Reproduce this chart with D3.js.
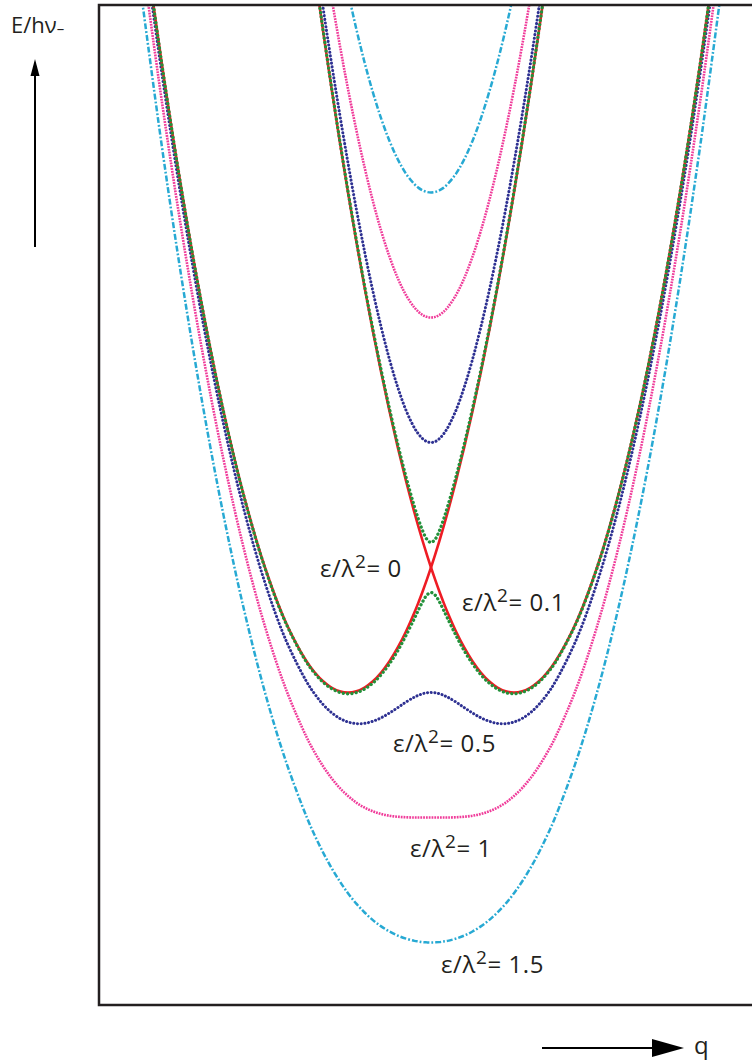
<!DOCTYPE html>
<html>
<head>
<meta charset="utf-8">
<script src="https://cdn.jsdelivr.net/npm/d3@7"></script>
<style>
  html, body { margin: 0; padding: 0; background: #fff; }
  svg { display: block; }
  text { font-family: "Open Sans", sans-serif; fill: #231f20; }
</style>
</head>
<body>
<div id="chart"></div>
<script>
// shared q grid (reaction coordinate), denser near the crossing
const qGrid = [-3.5, -3.25, -3, -2.75, -2.5, -2.25, -2, -1.75, -1.5, -1.4, -1.3, -1.2, -1.1, -1,
  -0.9, -0.8, -0.7, -0.6, -0.5, -0.4, -0.3, -0.2, -0.15, -0.1, -0.05, 0, 0.05, 0.1, 0.15, 0.2,
  0.3, 0.4, 0.5, 0.6, 0.7, 0.8, 0.9, 1, 1.1, 1.2, 1.3, 1.4, 1.5, 1.75, 2, 2.25, 2.5, 2.75, 3, 3.25, 3.5];

// eps/lambda^2 = 0 : the two crossing diabatic curves
const diabaticLeft = [5.25, 4.0625, 3, 2.0625, 1.25, 0.5625, 0, -0.4375, -0.75, -0.84, -0.91, -0.96, -0.99, -1,
  -0.99, -0.96, -0.91, -0.84, -0.75, -0.64, -0.51, -0.36, -0.2775, -0.19, -0.0975, 0, 0.1025, 0.21, 0.3225, 0.44,
  0.69, 0.96, 1.25, 1.56, 1.89, 2.24, 2.61, 3.0, 3.41, 3.84, 4.29, 4.76, 5.25, null, null, null, null, null, null, null, null];
const diabaticRight = [null, null, null, null, null, null, null, null, 5.25, 4.76, 4.29, 3.84, 3.41, 3.0,
  2.61, 2.24, 1.89, 1.56, 1.25, 0.96, 0.69, 0.44, 0.3225, 0.21, 0.1025, 0, -0.0975, -0.19, -0.2775, -0.36,
  -0.51, -0.64, -0.75, -0.84, -0.91, -0.96, -0.99, -1, -0.99, -0.96, -0.91, -0.84, -0.75, -0.4375, 0, 0.5625, 1.25, 2.0625, 3, 4.0625, 5.25];

// eps/lambda^2 = 0.1
const upper01 = [null, null, null, null, null, null, null, null, 5.257, 4.767, 4.298, 3.848, 3.419, 3.010,
  2.621, 2.252, 1.904, 1.577, 1.270, 0.985, 0.722, 0.487, 0.383, 0.293, 0.226, 0.2, 0.226, 0.293, 0.383, 0.487,
  0.722, 0.985, 1.270, 1.577, 1.904, 2.252, 2.621, 3.010, 3.419, 3.848, 4.298, 4.767, 5.257, null, null, null, null, null, null, null, null];
const lower01 = [5.247, 4.059, 2.997, 2.059, 1.246, 0.558, -0.005, -0.443, -0.757, -0.847, -0.918, -0.968, -0.999, -1.010,
  -1.001, -0.972, -0.924, -0.857, -0.770, -0.665, -0.542, -0.407, -0.338, -0.273, -0.221, -0.2, -0.221, -0.273, -0.338, -0.407,
  -0.542, -0.665, -0.770, -0.857, -0.924, -0.972, -1.001, -1.010, -0.999, -0.968, -0.918, -0.847, -0.757, -0.443, -0.005, 0.558, 1.246, 2.059, 2.997, 4.059, 5.247];

// eps/lambda^2 = 0.5
const upper05 = [null, null, null, null, null, null, null, null, 5.412, 4.933, 4.476, 4.040, 3.627, 3.236,
  2.869, 2.527, 2.210, 1.922, 1.664, 1.441, 1.256, 1.117, 1.067, 1.030, 1.007, 1.0, 1.007, 1.030, 1.067, 1.117,
  1.256, 1.441, 1.664, 1.922, 2.210, 2.527, 2.869, 3.236, 3.627, 4.040, 4.476, 4.933, 5.412, null, null, null, null, null, null, null, null];
const lower05 = [5.179, 3.986, 2.917, 1.972, 1.151, 0.453, -0.123, -0.578, -0.912, -1.013, -1.096, -1.160, -1.207, -1.236,
  -1.249, -1.247, -1.230, -1.202, -1.164, -1.121, -1.076, -1.037, -1.022, -1.010, -1.002, -1.0, -1.002, -1.010, -1.022, -1.037,
  -1.076, -1.121, -1.164, -1.202, -1.230, -1.247, -1.249, -1.236, -1.207, -1.160, -1.096, -1.013, -0.912, -0.578, -0.123, 0.453, 1.151, 1.972, 2.917, 3.986, 5.179];

// eps/lambda^2 = 1
const upper10 = [null, null, null, null, null, null, null, null, 5.856, 5.401, 4.970, 4.564, 4.183, 3.828,
  3.501, 3.201, 2.931, 2.692, 2.486, 2.314, 2.178, 2.080, 2.045, 2.020, 2.005, 2.0, 2.005, 2.020, 2.045, 2.080,
  2.178, 2.314, 2.486, 2.692, 2.931, 3.201, 3.501, 3.828, 4.183, 4.564, 4.970, 5.401, 5.856, null, null, null, null, null, null, null, null];
const lower10 = [4.970, 3.762, 2.675, 1.710, 0.865, 0.138, -0.472, -0.969, -1.356, -1.481, -1.590, -1.684, -1.763, -1.828,
  -1.881, -1.921, -1.951, -1.972, -1.986, -1.994, -1.998, -2.0, -2.0, -2.0, -2.0, -2.0, -2.0, -2.0, -2.0, -2.0,
  -1.998, -1.994, -1.986, -1.972, -1.951, -1.921, -1.881, -1.828, -1.763, -1.684, -1.590, -1.481, -1.356, -0.969, -0.472, 0.138, 0.865, 1.710, 2.675, 3.762, 4.970];

// eps/lambda^2 = 1.5
const upper15 = [null, null, null, null, null, null, null, null, 6.493, 6.064, 5.660, 5.282, 4.930, 4.606,
  4.309, 4.040, 3.801, 3.591, 3.412, 3.265, 3.149, 3.067, 3.037, 3.017, 3.004, 3.0, 3.004, 3.017, 3.037, 3.067,
  3.149, 3.265, 3.412, 3.591, 3.801, 4.040, 4.309, 4.606, 4.930, 5.282, 5.660, 6.064, 6.493, null, null, null, null, null, null, null, null];
const lower15 = [4.634, 3.404, 2.292, 1.298, 0.419, -0.346, -1.0, -1.547, -1.993, -2.144, -2.280, -2.402, -2.510, -2.606,
  -2.689, -2.760, -2.821, -2.871, -2.912, -2.945, -2.969, -2.987, -2.992, -2.997, -2.999, -3.0, -2.999, -2.997, -2.992, -2.987,
  -2.969, -2.945, -2.912, -2.871, -2.821, -2.760, -2.689, -2.606, -2.510, -2.402, -2.280, -2.144, -1.993, -1.547, -1.0, -0.346, 0.419, 1.298, 2.292, 3.404, 4.634];

const epsLabels = ["0", "0.1", "0.5", "1", "1.5"];

// ---- layout ----
const W = 752, H = 1061;
const svg = d3.select("#chart").append("svg").attr("width", W).attr("height", H);

const x = d3.scaleLinear().domain([-4, 4]).range([99, 763]);
const y = d3.scaleLinear().domain([-3.5, 4.5]).range([1005, 5]);

svg.append("clipPath").attr("id", "plotclip")
  .append("rect")
  .attr("x", x(-4)).attr("y", y(4.5))
  .attr("width", x(4) - x(-4)).attr("height", y(-3.5) - y(4.5));

const line = d3.line()
  .defined(d => d[1] != null)
  .x(d => x(d[0]))
  .y(d => y(d[1]))
  .curve(d3.curveCatmullRom.alpha(0.5));

// style per curve family
const cyan = { color: "#27a9d3", width: 2.5, dash: "6,2,1.8,2", cap: "butt" };
const pink = { color: "#f03c9a", width: 2.6, dash: "1.8,1", cap: "butt" };
const navy = { color: "#2e3192", width: 3, dash: "0.1,3.6", cap: "round" };
const red = { color: "#ee1c24", width: 2.6, dash: null, cap: "butt" };
const green = { color: "#22913a", width: 3.3, dash: "0.1,4.2", cap: "round" };

const series = [
  { v: lower15, s: cyan }, { v: upper15, s: cyan },
  { v: lower10, s: pink }, { v: upper10, s: pink },
  { v: lower05, s: navy }, { v: upper05, s: navy },
  { v: diabaticLeft, s: red }, { v: diabaticRight, s: red },
  { v: lower01, s: green }, { v: upper01, s: green }
];

const plot = svg.append("g").attr("clip-path", "url(#plotclip)");
series.forEach(d => {
  plot.append("path")
    .datum(qGrid.map((q, i) => [q, d.v[i]]))
    .attr("d", line)
    .attr("fill", "none")
    .attr("stroke", d.s.color)
    .attr("stroke-width", d.s.width)
    .attr("stroke-linecap", d.s.cap)
    .attr("stroke-dasharray", d.s.dash);
});

// frame (open on the right, cut by the page edge)
const frame = svg.append("g").attr("fill", "none").attr("stroke", "#231f20").attr("stroke-width", 2.5);
frame.append("path")
  .attr("d", `M${W + 5},${y(4.5)} H${x(-4)} V${y(-3.5)} H${W + 5}`);

// curve labels
const labelPos = [[320, 577], [462, 611], [393, 752], [410, 857], [441, 973]];
epsLabels.forEach((lab, i) => {
  const t = svg.append("text")
    .attr("x", labelPos[i][0]).attr("y", labelPos[i][1])
    .style("font-size", "24px")
    .style("letter-spacing", "0.6px");
  t.append("tspan").text("ε/λ");
  t.append("tspan").attr("dy", -9).style("font-size", "19px").text("2");
  t.append("tspan").attr("dy", 9).text("= " + lab);
});

// axis arrows and labels
svg.append("line").attr("x1", 35).attr("y1", 247).attr("x2", 35).attr("y2", 72)
  .attr("stroke", "#000").attr("stroke-width", 2);
svg.append("path").attr("d", "M35,59 L30.5,76 L39.5,76 Z").attr("fill", "#000");
const ylab = svg.append("text").attr("x", 11).attr("y", 33).style("font-size", "22px");
ylab.append("tspan").text("E/hν");
ylab.append("tspan").attr("dy", 1).style("font-size", "15px").text("–");

svg.append("line").attr("x1", 542).attr("y1", 1048).attr("x2", 656).attr("y2", 1048)
  .attr("stroke", "#000").attr("stroke-width", 2);
svg.append("path").attr("d", "M684,1048 L652,1039 L652,1057 Z").attr("fill", "#000");
svg.append("text").attr("x", 694).attr("y", 1054).style("font-size", "24px").text("q");
</script>
</body>
</html>
